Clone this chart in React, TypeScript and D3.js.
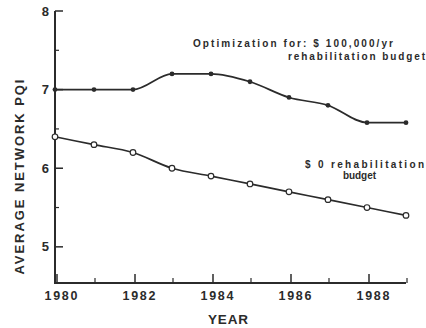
import React from "react";
import * as d3 from "d3";

const years = [1980, 1981, 1982, 1983, 1984, 1985, 1986, 1987, 1988, 1989];
const optimized = [7.0, 7.0, 7.0, 7.2, 7.2, 7.1, 6.9, 6.8, 6.58, 6.58];
const noBudget = [6.4, 6.3, 6.2, 6.0, 5.9, 5.8, 5.7, 5.6, 5.5, 5.4];
const yMajorTicks = [5, 6, 7, 8];
const yMinorTicks = [5.5, 6.5, 7.5];
const xMajorTicks = [1980, 1982, 1984, 1986, 1988];
const xMinorTicks = [1981, 1983, 1985, 1987, 1989];

const W = 426;
const H = 328;
const INK = "#2b2b2b";
const FONT = "'Liberation Sans', Arial, sans-serif";

export default function App() {
  const x = d3.scaleLinear().domain([1980, 1989]).range([55, 406]);
  const y = d3.scaleLinear().domain([4.54, 8]).range([283, 11]);
  const x0 = x(1980);
  const y0 = y(4.54);

  const line = d3
    .line<number>()
    .x((_, i) => x(years[i]))
    .y((d) => y(d))
    .curve(d3.curveMonotoneX);

  return (
    <svg
      width={W}
      height={H}
      viewBox={`0 0 ${W} ${H}`}
      style={{ position: "absolute", left: 0, top: 0, background: "#fff" }}
    >
      {/* axes */}
      <path
        d={`M${x0},${y(8)} L${x0},${y0} L${x(1989)},${y0}`}
        fill="none"
        stroke={INK}
        strokeWidth={2}
      />
      {yMajorTicks.map((t) => (
        <g key={"ym" + t}>
          <line x1={x0} x2={x0 + 8} y1={y(t)} y2={y(t)} stroke={INK} strokeWidth={1.5} />
          <text
            x={49}
            y={y(t) + 4.5}
            textAnchor="end"
            fontFamily={FONT}
            fontWeight="bold"
            fontSize={13}
            fill={INK}
          >
            {t}
          </text>
        </g>
      ))}
      {yMinorTicks.map((t) => (
        <line key={"yn" + t} x1={x0} x2={x0 + 4} y1={y(t)} y2={y(t)} stroke={INK} strokeWidth={1.2} />
      ))}
      {xMajorTicks.map((t) => (
        <g key={"xm" + t}>
          <line x1={x(t) + 2} x2={x(t) + 2} y1={y0} y2={y0 - 9} stroke={INK} strokeWidth={1.5} />
          <text
            x={x(t) + 6}
            y={300}
            textAnchor="middle"
            fontFamily={FONT}
            fontWeight="bold"
            fontSize={12.5}
            fill={INK}
            textLength={33}
            lengthAdjust="spacing"
          >
            {t}
          </text>
        </g>
      ))}
      {xMinorTicks.map((t) => (
        <line key={"xn" + t} x1={x(t) + 1} x2={x(t) + 1} y1={y0} y2={y0 - 5} stroke={INK} strokeWidth={1.2} />
      ))}

      {/* axis titles */}
      <text
        x={228}
        y={324}
        textAnchor="middle"
        fontFamily={FONT}
        fontWeight="bold"
        fontSize={13.5}
        fill={INK}
        textLength={40}
        lengthAdjust="spacing"
      >
        YEAR
      </text>
      <text
        transform={`translate(24,177) rotate(-90)`}
        textAnchor="middle"
        fontFamily={FONT}
        fontWeight="bold"
        fontSize={13}
        fill={INK}
        textLength={195}
        lengthAdjust="spacing"
      >
        AVERAGE NETWORK PQI
      </text>

      {/* series */}
      <path d={line(optimized) ?? ""} fill="none" stroke={INK} strokeWidth={1.7} />
      <path d={line(noBudget) ?? ""} fill="none" stroke={INK} strokeWidth={1.7} />
      {optimized.map((v, i) => (
        <circle key={"o" + i} cx={x(years[i])} cy={y(v)} r={2.4} fill={INK} />
      ))}
      {noBudget.map((v, i) => (
        <circle
          key={"n" + i}
          cx={x(years[i])}
          cy={y(v)}
          r={2.8}
          fill="#fff"
          stroke={INK}
          strokeWidth={1.2}
        />
      ))}

      {/* annotations */}
      <text
        x={193}
        y={47}
        fontFamily={FONT}
        fontWeight="bold"
        fontSize={10}
        fill={INK}
        textLength={200}
        lengthAdjust="spacing"
      >
        Optimization for: $ 100,000/yr
      </text>
      <text
        x={288}
        y={60}
        fontFamily={FONT}
        fontWeight="bold"
        fontSize={10}
        fill={INK}
        textLength={137}
        lengthAdjust="spacing"
      >
        rehabilitation budget
      </text>
      <text
        x={305}
        y={168}
        fontFamily={FONT}
        fontWeight="bold"
        fontSize={10}
        fill={INK}
        textLength={119}
        lengthAdjust="spacing"
      >
        $ 0 rehabilitation
      </text>
      <text
        x={343}
        y={179}
        fontFamily={FONT}
        fontWeight="bold"
        fontSize={10}
        fill={INK}
        textLength={33}
        lengthAdjust="spacing"
      >
        budget
      </text>
    </svg>
  );
}
